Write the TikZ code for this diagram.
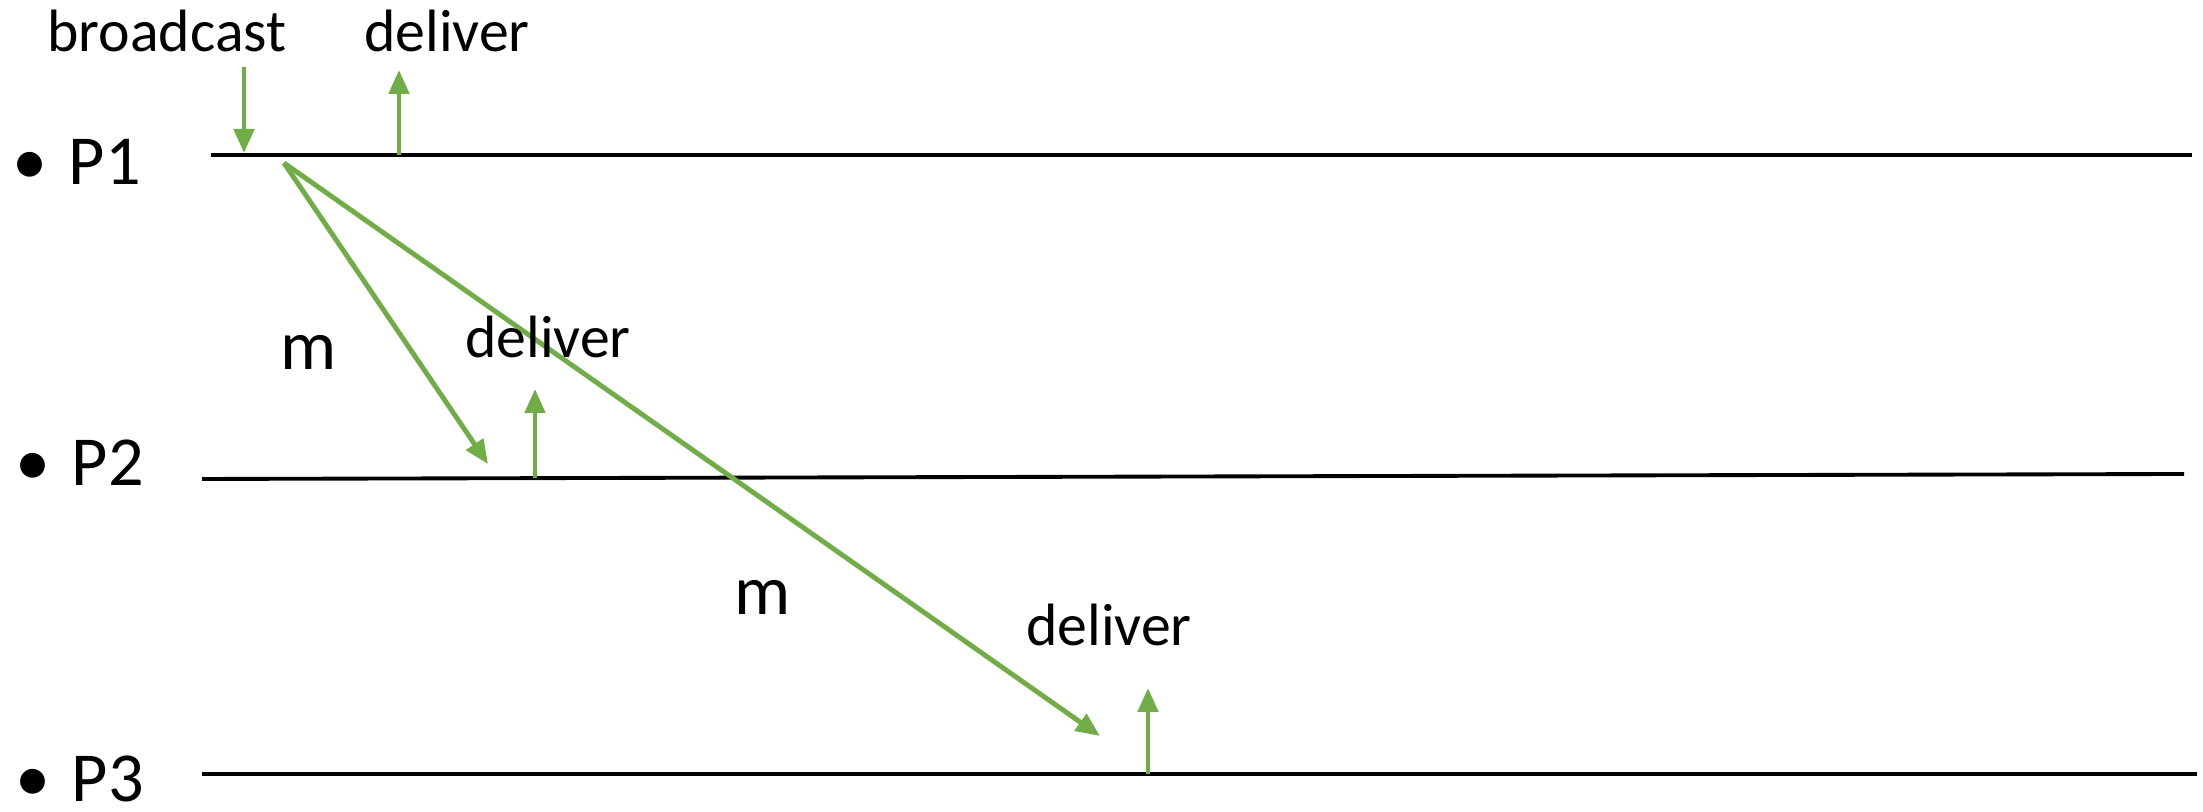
\documentclass[tikz,border=0pt]{standalone}
\usepackage{fontspec}
\setmainfont{Carlito}
\usetikzlibrary{arrows.meta}
\definecolor{msggreen}{HTML}{70AD47}

\begin{document}
\begin{tikzpicture}[
        every node/.style={inner sep=0pt, anchor=base},
        proc/.style={draw, line width=1.1pt},
        evt/.style={
                draw=msggreen, line width=1.4pt,
                -{Triangle[length=0.24cm, width=0.2cm]}
            },
        lbl/.style={font=\fontsize{17}{20}\selectfont},
        big/.style={font=\fontsize{20}{24}\selectfont}
    ]

    \useasboundingbox (0, 0) rectangle (22.03, 8.12);

    % processes
    \node[big, anchor=base west] (p1) at (0.12, 6.27) {•\hspace{0.3em}P1};
    \node[big, anchor=base west] (p2) at (0.15, 3.26) {•\hspace{0.3em}P2};
    \node[big, anchor=base west] (p3) at (0.15, 0.10) {•\hspace{0.3em}P3};

    \coordinate (p1a) at (2.11, 6.57);
    \coordinate (p1b) at (21.92, 6.57);
    \coordinate (p2a) at (2.02, 3.33);
    \coordinate (p2b) at (21.84, 3.38);
    \coordinate (p3a) at (2.02, 0.38);
    \coordinate (p3b) at (21.97, 0.38);

    \draw[proc] (p1a) -- (p1b);
    \draw[proc] (p2a) -- (p2b);
    \draw[proc] (p3a) -- (p3b);

    % events on P1
    \node[lbl] (bc) at (1.67, 7.60) {broadcast};
    \node[lbl] (dl1) at (4.47, 7.60) {deliver};
    \coordinate (bcs) at (2.44, 7.45);
    \coordinate (bce) at (2.44, 6.59);
    \coordinate (dl1s) at (3.99, 6.57);
    \coordinate (dl1e) at (3.99, 7.42);
    \draw[evt] (bcs) -- (bce);
    \draw[evt] (dl1s) -- (dl1e);

    % messages
    \coordinate (send) at (2.84, 6.49);
    \coordinate (rcv2) at (4.88, 3.48);
    \coordinate (rcv3) at (11.00, 0.76);
    \draw[evt] (send) -- (rcv2);
    \draw[evt] (send) -- (rcv3);
    \node[big] (m1) at (3.09, 4.42) {m};
    \node[big] (m2) at (7.63, 1.97) {m};

    % deliveries on P2 and P3
    \node[lbl] (dl2) at (5.48, 4.54) {deliver};
    \node[lbl] (dl3) at (11.09, 1.66) {deliver};
    \coordinate (dl2s) at (5.35, 3.34);
    \coordinate (dl2e) at (5.35, 4.23);
    \coordinate (dl3s) at (11.48, 0.38);
    \coordinate (dl3e) at (11.48, 1.24);
    \draw[evt] (dl2s) -- (dl2e);
    \draw[evt] (dl3s) -- (dl3e);

\end{tikzpicture}
\end{document}
